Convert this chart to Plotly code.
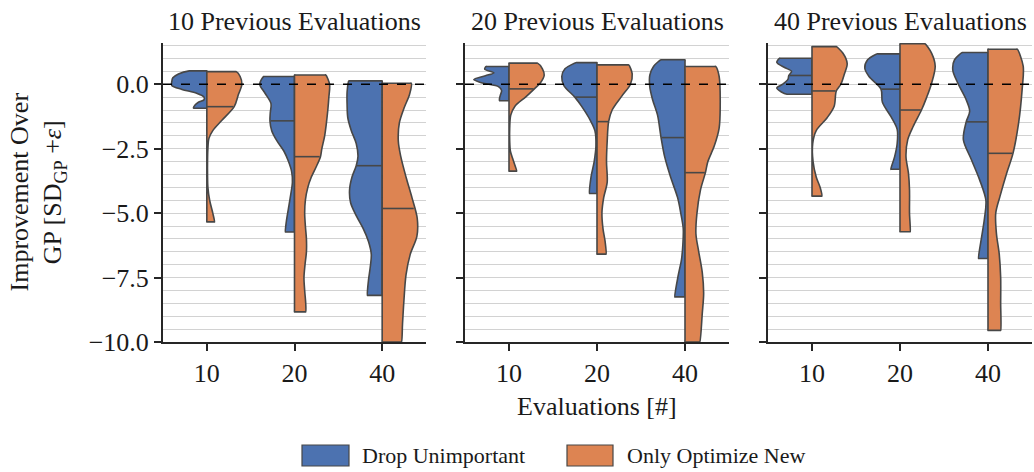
import numpy as np
import plotly.graph_objects as go

# ---- categories -----------------------------------------------------------
EVALS = ["10", "20", "40"]                 # x categories: evaluations
PREVIOUS = [10, 20, 40]                    # facet: previous evaluations
METHODS = ["Drop Unimportant", "Only Optimize New"]
COLORS = ["#4C72B0", "#DD8452"]

# ---- half-violin profiles: levels (y) and relative density (0..1) ----------
# 10 previous evaluations
drop_p10_e10_y = [0.52, 0.40, 0.25, 0.10, -0.05, -0.2, -0.35, -0.5, -0.6, -0.7, -0.8, -0.93]
drop_p10_e10_d = [0.50, 0.81, 0.97, 1.0, 1.0, 0.71, 0.29, 0.08, 0.08, 0.24, 0.33, 0.38]
only_p10_e10_y = [0.49, 0.3, 0.0, -0.4, -0.87, -1.4, -1.8, -2.1, -2.5, -3.0, -3.5, -4.0, -4.5, -5.0, -5.34]
only_p10_e10_d = [0.84, 0.95, 1.0, 0.90, 0.78, 0.43, 0.17, 0.06, 0.03, 0.02, 0.02, 0.03, 0.08, 0.17, 0.22]
drop_p10_e20_y = [0.30, 0.0, -0.35, -0.75, -1.1, -1.42, -1.8, -2.2, -2.6, -3.0, -3.4, -3.8, -4.3, -4.8, -5.3, -5.73]
drop_p10_e20_d = [0.88, 0.99, 0.84, 0.67, 0.69, 0.70, 0.65, 0.50, 0.30, 0.17, 0.08, 0.06, 0.11, 0.17, 0.23, 0.26]
only_p10_e20_y = [0.36, 0.0, -0.5, -1.0, -1.5, -2.0, -2.5, -2.81, -3.2, -3.6, -4.0, -4.5, -5.0, -5.5, -6.0, -6.5,
                  -7.0, -7.5, -8.0, -8.5, -8.83]
only_p10_e20_d = [0.89, 1.0, 0.98, 0.95, 0.91, 0.86, 0.78, 0.74, 0.62, 0.48, 0.38, 0.31, 0.29, 0.31, 0.34, 0.34,
                  0.30, 0.27, 0.29, 0.32, 0.32]
drop_p10_e40_y = [0.13, -0.3, -0.8, -1.3, -1.8, -2.3, -2.8, -3.16, -3.6, -4.1, -4.6, -5.1, -5.6, -6.1, -6.6, -7.1,
                  -7.6, -8.19]
drop_p10_e40_d = [0.95, 1.0, 1.0, 0.98, 0.88, 0.74, 0.69, 0.74, 0.86, 0.93, 0.90, 0.74, 0.54, 0.39, 0.31, 0.34,
                  0.39, 0.42]
only_p10_e40_y = [0.04, -0.4, -0.9, -1.5, -2.2, -2.8, -3.6, -4.4, -5.2, -5.9, -6.6, -7.4, -8.4, -9.3, -10.0]
only_p10_e40_d = [0.83, 0.78, 0.63, 0.49, 0.46, 0.53, 0.68, 0.85, 1.0, 0.99, 0.80, 0.68, 0.62, 0.58, 0.55]

# 20 previous evaluations
drop_p20_e10_y = [0.69, 0.58, 0.45, 0.33, 0.18, 0.05, -0.1, -0.25, -0.4, -0.55, -0.64]
drop_p20_e10_d = [0.65, 0.69, 0.43, 0.67, 1.0, 0.76, 0.29, 0.21, 0.24, 0.27, 0.27]
only_p20_e10_y = [0.82, 0.6, 0.35, 0.05, -0.18, -0.5, -0.85, -1.2, -1.7, -2.2, -2.6, -2.95, -3.37]
only_p20_e10_d = [0.81, 0.95, 1.0, 0.89, 0.72, 0.47, 0.17, 0.05, 0.02, 0.02, 0.04, 0.12, 0.22]
drop_p20_e20_y = [0.84, 0.6, 0.3, -0.05, -0.5, -0.85, -1.4, -1.8, -2.4, -3.0, -3.6, -4.24]
drop_p20_e20_d = [0.58, 0.91, 1.0, 0.94, 0.63, 0.44, 0.19, 0.06, 0.03, 0.08, 0.17, 0.21]
only_p20_e20_y = [0.75, 0.4, 0.0, -0.45, -1.0, -1.45, -2.2, -3.0, -3.8, -4.4, -5.0, -5.6, -6.1, -6.59]
only_p20_e20_d = [0.90, 1.0, 0.95, 0.71, 0.43, 0.33, 0.29, 0.27, 0.29, 0.19, 0.14, 0.17, 0.23, 0.26]
drop_p20_e40_y = [0.95, 0.7, 0.35, -0.1, -0.6, -1.2, -2.07, -2.8, -3.6, -4.4, -5.0, -5.6, -6.2, -6.8, -7.4, -8.25]
drop_p20_e40_d = [0.68, 0.89, 1.0, 1.0, 0.92, 0.78, 0.68, 0.58, 0.41, 0.21, 0.12, 0.05, 0.06, 0.10, 0.19, 0.29]
only_p20_e40_y = [0.69, 0.3, -0.9, -1.7, -2.4, -3.0, -3.43, -4.1, -5.0, -5.8, -6.5, -7.3, -8.1, -8.9, -10.0]
only_p20_e40_d = [0.87, 0.97, 1.0, 0.97, 0.83, 0.65, 0.58, 0.44, 0.34, 0.31, 0.39, 0.49, 0.53, 0.49, 0.42]

# 40 previous evaluations
drop_p40_e10_y = [1.01, 0.85, 0.65, 0.5, 0.34, 0.2, 0.0, -0.15, -0.3, -0.39]
drop_p40_e10_d = [0.92, 1.0, 0.78, 0.58, 0.66, 0.68, 0.83, 1.0, 0.87, 0.71]
only_p40_e10_y = [1.46, 1.2, 0.8, 0.4, 0.0, -0.26, -0.85, -1.3, -1.8, -2.3, -3.0, -3.6, -4.0, -4.34]
only_p40_e10_d = [0.69, 0.88, 1.0, 0.92, 0.82, 0.69, 0.63, 0.43, 0.12, 0.02, 0.03, 0.12, 0.23, 0.28]
drop_p40_e20_y = [1.18, 0.95, 0.62, 0.3, -0.19, -0.7, -1.25, -1.75, -2.3, -2.8, -3.3]
drop_p40_e20_d = [0.64, 0.92, 1.0, 0.88, 0.54, 0.50, 0.26, 0.08, 0.08, 0.15, 0.26]
only_p40_e20_y = [1.57, 1.2, 0.7, 0.05, -0.5, -1.0, -1.65, -2.15, -2.8, -3.45, -4.1, -5.0, -5.72]
only_p40_e20_d = [0.71, 0.90, 1.0, 0.90, 0.76, 0.61, 0.37, 0.22, 0.17, 0.24, 0.27, 0.27, 0.29]
drop_p40_e40_y = [1.23, 0.95, 0.55, 0.05, -0.6, -1.05, -1.46, -2.15, -2.9, -3.7, -4.5, -5.2, -6.0, -6.76]
drop_p40_e40_d = [0.73, 0.95, 1.0, 0.86, 0.62, 0.52, 0.62, 0.70, 0.48, 0.24, 0.06, 0.10, 0.19, 0.27]
only_p40_e40_y = [1.36, 0.7, -0.2, -1.5, -2.68, -3.45, -4.35, -5.0, -5.8, -6.6, -7.5, -8.5, -9.55]
only_p40_e40_d = [0.83, 1.0, 0.97, 0.87, 0.71, 0.53, 0.34, 0.22, 0.24, 0.32, 0.36, 0.36, 0.36]

# medians per facet, in EVALS order (None: not drawn)
drop_p10_med = [None, -1.42, -3.16]
only_p10_med = [-0.87, -2.81, -4.82]
drop_p20_med = [None, -0.5, -2.07]
only_p20_med = [-0.18, -1.45, -3.43]
drop_p40_med = [0.34, -0.19, -1.46]
only_p40_med = [-0.26, -1.0, -2.68]

PROFILES = {
    10: [[(drop_p10_e10_y, drop_p10_e10_d), (drop_p10_e20_y, drop_p10_e20_d), (drop_p10_e40_y, drop_p10_e40_d)],
         [(only_p10_e10_y, only_p10_e10_d), (only_p10_e20_y, only_p10_e20_d), (only_p10_e40_y, only_p10_e40_d)]],
    20: [[(drop_p20_e10_y, drop_p20_e10_d), (drop_p20_e20_y, drop_p20_e20_d), (drop_p20_e40_y, drop_p20_e40_d)],
         [(only_p20_e10_y, only_p20_e10_d), (only_p20_e20_y, only_p20_e20_d), (only_p20_e40_y, only_p20_e40_d)]],
    40: [[(drop_p40_e10_y, drop_p40_e10_d), (drop_p40_e20_y, drop_p40_e20_d), (drop_p40_e40_y, drop_p40_e40_d)],
         [(only_p40_e10_y, only_p40_e10_d), (only_p40_e20_y, only_p40_e20_d), (only_p40_e40_y, only_p40_e40_d)]],
}
MEDIANS = {10: [drop_p10_med, only_p10_med], 20: [drop_p20_med, only_p20_med], 40: [drop_p40_med, only_p40_med]}

# ---- styling ----------------------------------------------------------------
W, H = 1034, 472
HALF = 0.4                      # max half-width of a violin (category units)
EDGE = "#474747"
INK = "#1a1a1a"
FONT = "Liberation Serif"
FS = 26                         # titles, axis labels, tick labels
FS_LEG = 22                     # legend labels
X_DOMAINS = [(163, 426), (465, 729), (768, 1032)]
Y_TOP, Y_BOT = 43, 342


def half_outline(c, side, ys, ds):
    """Closed outline of one half violin; short helper runs keep flat edges straight."""
    top, bot = ys[0], ys[-1]
    w0, wn = side * HALF * ds[0], side * HALF * ds[-1]
    span = top - bot
    xs = [c, c + 0.03 * w0, c + 0.97 * w0]
    yy = [top, top, top]
    xs += [c + side * HALF * d for d in ds]
    yy += list(ys)
    xs += [c + 0.97 * wn, c + 0.03 * wn, c, c, c]
    yy += [bot, bot, bot, bot + 0.01 * span, bot + 0.5 * span]
    xs += [c, c]
    yy += [top - 0.01 * span, top]
    return xs, yy


fig = go.Figure()

for pi, prev in enumerate(PREVIOUS):
    xa = "x" if pi == 0 else f"x{pi + 1}"
    ya = "y" if pi == 0 else f"y{pi + 1}"
    for mi, method in enumerate(METHODS):
        side = -1 if mi == 0 else 1
        for ei, _ in enumerate(EVALS):
            ys, ds = PROFILES[prev][mi][ei]
            xs, yy = half_outline(ei, side, ys, ds)
            fig.add_trace(go.Scatter(
                x=xs, y=yy, xaxis=xa, yaxis=ya, mode="lines",
                fill="toself", fillcolor=COLORS[mi],
                line=dict(color=EDGE, width=1.6, shape="spline", smoothing=0.9),
                name=method, showlegend=False, hoverinfo="skip"))
            med = MEDIANS[prev][mi][ei]
            if med is not None:
                wm = float(np.interp(med, ys[::-1], ds[::-1]))
                fig.add_trace(go.Scatter(
                    x=[ei, ei + side * HALF * wm * 0.97], y=[med, med], xaxis=xa, yaxis=ya,
                    mode="lines", line=dict(color=EDGE, width=1.6),
                    showlegend=False, hoverinfo="skip"))

axis_line = dict(showline=True, linecolor="#262626", linewidth=2, ticks="outside",
                 ticklen=7, tickwidth=2, tickcolor="#262626", zeroline=False, automargin=False)
minor_grid = [v / 2 for v in range(-19, 4) if v % 5 != 0]

layout = dict(
    width=W, height=H, margin=dict(l=0, r=0, t=0, b=0, autoexpand=False),
    paper_bgcolor="white", plot_bgcolor="white",
    font=dict(family=FONT, size=FS, color=INK),
    showlegend=False,
)
for pi in range(3):
    sx = "" if pi == 0 else str(pi + 1)
    x0, x1 = X_DOMAINS[pi]
    layout[f"xaxis{sx}"] = dict(
        domain=[x0 / W, x1 / W], range=[-0.5, 2.5], tickvals=[0, 1, 2], ticktext=EVALS,
        showgrid=False, anchor=f"y{sx}", tickfont=dict(size=FS), **axis_line)
    layout[f"yaxis{sx}"] = dict(
        domain=[1 - Y_BOT / H, 1 - Y_TOP / H], range=[-10, 1.6],
        tickvals=[0, -2.5, -5, -7.5, -10], tickformat=".1f",
        showticklabels=(pi == 0), anchor=f"x{sx}",
        showgrid=True, gridcolor="#d2d2d2", gridwidth=1.4,
        minor=dict(tickvals=minor_grid, showgrid=True, gridcolor="#d2d2d2", gridwidth=1.4, ticks=""),
        tickfont=dict(size=FS), **axis_line)
fig.update_layout(**layout)

shapes = []
annotations = []
for pi, prev in enumerate(PREVIOUS):
    sx = "" if pi == 0 else str(pi + 1)
    shapes.append(dict(type="line", xref=f"x{sx} domain", yref=f"y{sx}", x0=0, x1=1, y0=0, y1=0,
                       line=dict(color="black", width=1.5, dash="dash"), layer="above"))
    x0, x1 = X_DOMAINS[pi]
    annotations.append(dict(text=f"{prev} Previous Evaluations", xref="paper", yref="paper",
                            x=(x0 + x1) / 2 / W, y=1 - 22 / H, showarrow=False,
                            xanchor="center", yanchor="middle", font=dict(size=FS)))

annotations.append(dict(text="Evaluations [#]", xref="paper", yref="paper",
                        x=(X_DOMAINS[1][0] + X_DOMAINS[1][1]) / 2 / W, y=1 - 406 / H,
                        showarrow=False, xanchor="center", yanchor="middle", font=dict(size=FS)))
annotations.append(dict(text="Improvement Over<br>GP [SD<sub>GP</sub> +<i>ε</i>]", xref="paper", yref="paper",
                        x=37 / W, y=1 - (Y_TOP + Y_BOT) / 2 / H, textangle=-90, showarrow=False,
                        xanchor="center", yanchor="middle", font=dict(size=FS)))

# legend: swatch + label for each method
legend_items = [(302, 349, 360), (567, 613, 625)]
for (sx0, sx1, tx), method, color in zip(legend_items, METHODS, COLORS):
    shapes.append(dict(type="rect", xref="paper", yref="paper", x0=sx0 / W, x1=sx1 / W,
                       y0=1 - 466 / H, y1=1 - 445 / H, fillcolor=color,
                       line=dict(color=EDGE, width=1.2)))
    annotations.append(dict(text=method, xref="paper", yref="paper", x=tx / W, y=1 - 455.5 / H,
                            showarrow=False, xanchor="left", yanchor="middle", font=dict(size=FS_LEG)))

fig.update_layout(shapes=shapes, annotations=annotations)
fig.write_html("out.html")
